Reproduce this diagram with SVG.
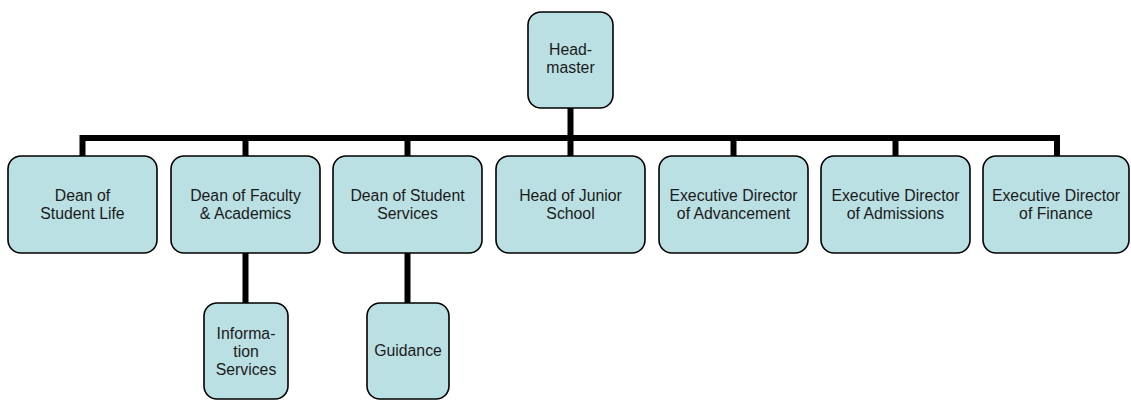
<svg xmlns="http://www.w3.org/2000/svg" width="1131" height="401" viewBox="0 0 1131 401">
  <style>
    .box { fill: #BBE0E3; stroke: #000; stroke-width: 1.6; }
    .lbl { font-family: "Liberation Sans", Arial, sans-serif; font-size: 15.8px; fill: #1a1a1a; text-anchor: middle; }
    .wire { fill: none; stroke: #000; stroke-width: 6; stroke-linejoin: miter; stroke-linecap: butt; }
  </style>
  <rect width="1131" height="401" fill="#fff"/>

  <!-- connectors -->
  <g id="connectors">
    <path class="wire" d="M570.5 108 V138"/>
    <path class="wire" d="M82.5 156 V138 H1057 V156"/>
    <path class="wire" d="M245.5 138 V156"/>
    <path class="wire" d="M407.5 138 V156"/>
    <path class="wire" d="M570.5 138 V156"/>
    <path class="wire" d="M733.5 138 V156"/>
    <path class="wire" d="M895.5 138 V156"/>
    <path class="wire" d="M245.5 253 V303"/>
    <path class="wire" d="M407.5 253 V303"/>
  </g>

  <g id="headmaster">
    <rect class="box" x="528" y="12" width="85" height="96" rx="13"/>
    <text class="lbl" x="570.5" y="55">Head-</text>
    <text class="lbl" x="570.5" y="73">master</text>
  </g>

  <g id="dean-student-life">
    <rect class="box" x="8" y="156" width="149" height="97" rx="13"/>
    <text class="lbl" x="82.5" y="201">Dean of</text>
    <text class="lbl" x="82.5" y="219">Student Life</text>
  </g>

  <g id="dean-faculty">
    <rect class="box" x="171" y="156" width="149" height="97" rx="13"/>
    <text class="lbl" x="245.5" y="201">Dean of Faculty</text>
    <text class="lbl" x="245.5" y="219">&amp; Academics</text>
  </g>

  <g id="dean-student-services">
    <rect class="box" x="333" y="156" width="149" height="97" rx="13"/>
    <text class="lbl" x="407.5" y="201">Dean of Student</text>
    <text class="lbl" x="407.5" y="219">Services</text>
  </g>

  <g id="head-junior-school">
    <rect class="box" x="496" y="156" width="149" height="97" rx="13"/>
    <text class="lbl" x="570.5" y="201">Head of Junior</text>
    <text class="lbl" x="570.5" y="219">School</text>
  </g>

  <g id="exec-advancement">
    <rect class="box" x="659" y="156" width="149" height="97" rx="13"/>
    <text class="lbl" x="733.5" y="201">Executive Director</text>
    <text class="lbl" x="733.5" y="219">of Advancement</text>
  </g>

  <g id="exec-admissions">
    <rect class="box" x="821" y="156" width="149" height="97" rx="13"/>
    <text class="lbl" x="895.5" y="201">Executive Director</text>
    <text class="lbl" x="895.5" y="219">of Admissions</text>
  </g>

  <g id="exec-finance">
    <rect class="box" x="983" y="156" width="146" height="97" rx="13"/>
    <text class="lbl" x="1056" y="201">Executive Director</text>
    <text class="lbl" x="1056" y="219">of Finance</text>
  </g>

  <g id="information-services">
    <rect class="box" x="204" y="303" width="84" height="96" rx="13"/>
    <text class="lbl" x="246" y="339">Informa-</text>
    <text class="lbl" x="246" y="357">tion</text>
    <text class="lbl" x="246" y="375">Services</text>
  </g>

  <g id="guidance">
    <rect class="box" x="367" y="303" width="82" height="96" rx="13"/>
    <text class="lbl" x="408" y="356">Guidance</text>
  </g>
</svg>
